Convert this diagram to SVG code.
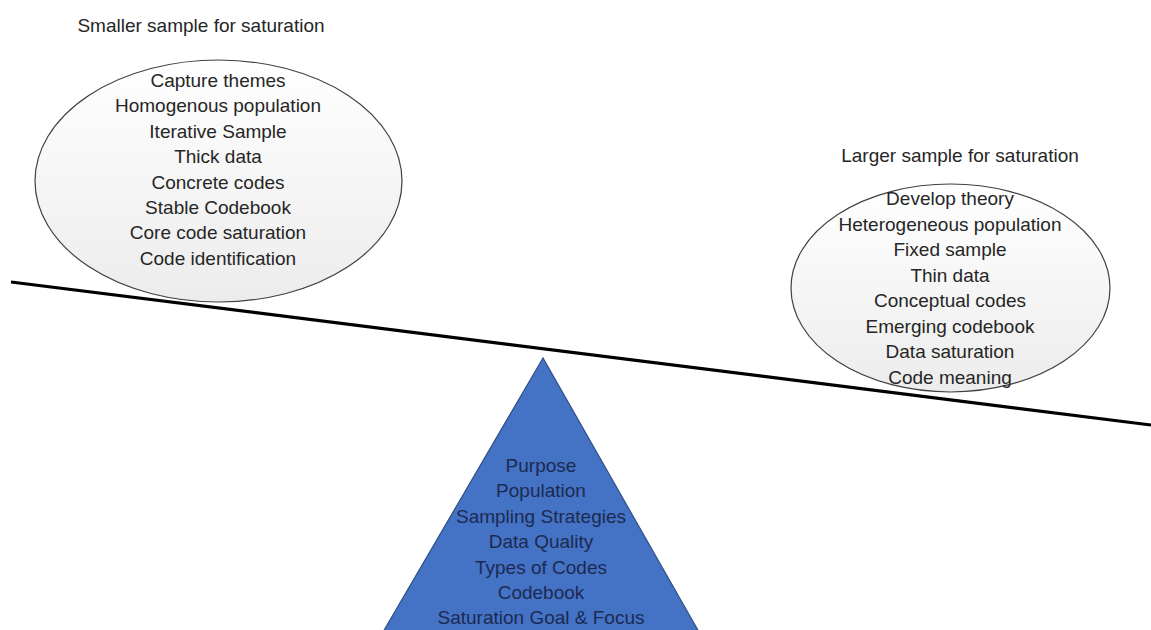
<svg xmlns="http://www.w3.org/2000/svg" width="1151" height="630" viewBox="0 0 1151 630">
<defs>
<linearGradient id="eg" x1="0" y1="0" x2="0" y2="1">
<stop offset="0" stop-color="#ffffff"/>
<stop offset="1" stop-color="#ececec"/>
</linearGradient>
<style>
.t{font-family:"Liberation Sans",Arial,sans-serif;font-size:19px;fill:#262626;text-anchor:middle}
.tt{font-family:"Liberation Sans",Arial,sans-serif;font-size:19px;fill:#262626;text-anchor:middle}
.tw{font-family:"Liberation Sans",Arial,sans-serif;font-size:19px;fill:#1c2a52;text-anchor:middle}
.el{fill:url(#eg);stroke:#404040;stroke-width:1.2}
</style>
</defs>
<rect width="1151" height="630" fill="#ffffff"/>
<g id="title-left"><text class="tt" x="201" y="32">Smaller sample for saturation</text></g>
<g id="title-right"><text class="tt" x="960" y="162">Larger sample for saturation</text></g>
<g id="ellipse-left">
<ellipse class="el" cx="218.5" cy="181" rx="183.5" ry="121"/>
<text class="t" x="218" y="87">Capture themes</text>
<text class="t" x="218" y="112.4">Homogenous population</text>
<text class="t" x="218" y="137.8">Iterative Sample</text>
<text class="t" x="218" y="163.2">Thick data</text>
<text class="t" x="218" y="188.6">Concrete codes</text>
<text class="t" x="218" y="214">Stable Codebook</text>
<text class="t" x="218" y="239.4">Core code saturation</text>
<text class="t" x="218" y="264.8">Code identification</text>
</g>
<g id="ellipse-right">
<ellipse class="el" cx="950.5" cy="288" rx="159.5" ry="104"/>
<text class="t" x="950" y="205">Develop theory</text>
<text class="t" x="950" y="230.5">Heterogeneous population</text>
<text class="t" x="950" y="256">Fixed sample</text>
<text class="t" x="950" y="281.5">Thin data</text>
<text class="t" x="950" y="307">Conceptual codes</text>
<text class="t" x="950" y="332.5">Emerging codebook</text>
<text class="t" x="950" y="358">Data saturation</text>
<text class="t" x="950" y="383.5">Code meaning</text>
</g>
<g id="fulcrum">
<polygon points="543,358 383,632 699,632" fill="#4472c4" stroke="#2f4f86" stroke-width="1.2"/>
<text class="tw" x="541" y="472">Purpose</text>
<text class="tw" x="541" y="497.4">Population</text>
<text class="tw" x="541" y="522.8">Sampling Strategies</text>
<text class="tw" x="541" y="548.2">Data Quality</text>
<text class="tw" x="541" y="573.6">Types of Codes</text>
<text class="tw" x="541" y="599">Codebook</text>
<text class="tw" x="541" y="624.4">Saturation Goal &amp; Focus</text>
</g>
<g id="connectors">
<line x1="11" y1="282" x2="1151" y2="425" stroke="#000000" stroke-width="3.2"/>
</g>
</svg>
